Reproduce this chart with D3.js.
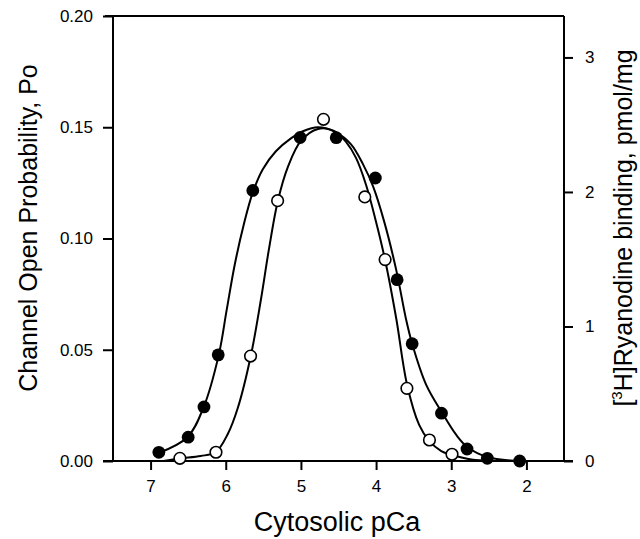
<!DOCTYPE html>
<html><head><meta charset="utf-8">
<script src="https://cdn.jsdelivr.net/npm/d3@7"></script>
<style>body{margin:0;background:#fff}svg{display:block}text{font-family:"Liberation Sans",Arial,Helvetica,sans-serif;fill:#000}</style>
</head><body><svg id="c" width="640" height="539"></svg>
<script>
// Channel open probability (filled circles, left axis)
const poPCa   = [6.89, 6.50, 6.29, 6.10, 5.64, 5.01, 4.53, 4.01, 3.72, 3.52, 3.13, 2.79, 2.52, 2.09];
const poValue = [0.0039, 0.0107, 0.0243, 0.0477, 0.1216, 0.1454, 0.1453, 0.1272, 0.0815, 0.0527, 0.0215, 0.0054, 0.0012, 0.0];
// [3H]ryanodine binding (open circles, right axis)
const bindPCa   = [6.61, 6.13, 5.67, 5.31, 4.70, 4.15, 3.88, 3.59, 3.29, 2.99];
const bindValue = [0.02, 0.065, 0.78, 1.935, 2.54, 1.963, 1.497, 0.54, 0.156, 0.05];
// fitted curves
const poFitPCa = [6.893, 6.507, 6.293, 6.093, 5.987, 5.88, 5.76, 5.64, 5.507, 5.333, 5.133, 4.973, 4.773, 4.533, 4.333, 4.173, 4.04, 3.893, 3.733, 3.60, 3.52, 3.333, 3.12, 2.933, 2.787, 2.52, 2.093];
const poFitVal = [0.0036, 0.0108, 0.0243, 0.0477, 0.0680, 0.0883, 0.1063, 0.1207, 0.1311, 0.1392, 0.1450, 0.1482, 0.1500, 0.1477, 0.1423, 0.1333, 0.1234, 0.1077, 0.086, 0.0635, 0.0527, 0.0342, 0.0216, 0.0117, 0.0063, 0.0018, 0.0];
const bindFitPCa = [6.827, 6.613, 6.333, 6.133, 5.973, 5.84, 5.667, 5.533, 5.427, 5.307, 5.173, 5.0, 4.773, 4.56, 4.40, 4.267, 4.133, 4.0, 3.88, 3.733, 3.587, 3.427, 3.293, 3.133, 2.987, 2.733, 2.467];
const bindFitVal = [0.0, 0.019, 0.037, 0.067, 0.201, 0.394, 0.781, 1.197, 1.569, 1.933, 2.186, 2.379, 2.468, 2.454, 2.372, 2.253, 2.052, 1.777, 1.494, 1.063, 0.565, 0.268, 0.149, 0.074, 0.045, 0.011, 0.0];
// ticks
const xTicks = [7, 6, 5, 4, 3, 2];
const yLeftTicks = [0.00, 0.05, 0.10, 0.15, 0.20];
const yRightTicks = [0, 1, 2, 3];
const xTitle = "Cytosolic pCa";
const yLeftTitle = "Channel Open Probability, Po";

const svg = d3.select("#c");
const L = 113, R = 564, T = 16, B = 461;
const x = d3.scaleLinear().domain([7.5, 1.5]).range([L, R]);
const yL = d3.scaleLinear().domain([0, 0.2]).range([B, T]);
const yR = d3.scaleLinear().domain([0, 3.308]).range([B, T]);

const sw = 2;
const FF = '"Liberation Sans",Arial,sans-serif';
const gL = svg.append("g").attr("transform", `translate(${L},0)`)
  .call(d3.axisLeft(yL).tickValues(yLeftTicks).tickFormat(d3.format(".2f")).tickSize(10).tickPadding(10));
const gR = svg.append("g").attr("transform", `translate(${R},0)`)
  .call(d3.axisRight(yR).tickValues(yRightTicks).tickFormat(d3.format("d")).tickSize(9).tickPadding(12));
const gB = svg.append("g").attr("transform", `translate(0,${B})`)
  .call(d3.axisBottom(x).tickValues(xTicks).tickFormat(d3.format("d")).tickSize(9).tickPadding(10));
[gL, gR, gB].forEach(g => {
  g.select(".domain").remove();
  g.selectAll(".tick line").attr("stroke", "#000").attr("stroke-width", sw);
  g.selectAll(".tick text").attr("font-size", 17).attr("font-family", FF);
});
const frame = svg.append("g").attr("stroke", "#000").attr("stroke-width", sw).attr("fill", "none");
frame.append("line").attr("x1", L).attr("x2", L).attr("y1", T).attr("y2", B);
frame.append("line").attr("x1", R).attr("x2", R).attr("y1", T).attr("y2", B);
frame.append("line").attr("x1", L - 8).attr("x2", R).attr("y1", T).attr("y2", T);
frame.append("line").attr("x1", L - 10).attr("x2", R + 9).attr("y1", B).attr("y2", B);

const lineL = d3.line().x(d => x(d[0])).y(d => yL(d[1])).curve(d3.curveCatmullRom.alpha(0.5));
const lineR = d3.line().x(d => x(d[0])).y(d => yR(d[1])).curve(d3.curveCatmullRom.alpha(0.5));
svg.append("path").datum(d3.zip(poFitPCa, poFitVal)).attr("d", lineL)
  .attr("fill", "none").attr("stroke", "#000").attr("stroke-width", 2);
svg.append("path").datum(d3.zip(bindFitPCa, bindFitVal)).attr("d", lineR)
  .attr("fill", "none").attr("stroke", "#000").attr("stroke-width", 2);

svg.append("g").selectAll("circle").data(d3.zip(bindPCa, bindValue)).join("circle")
  .attr("cx", d => x(d[0])).attr("cy", d => yR(d[1])).attr("r", 5.8)
  .attr("fill", "#fff").attr("stroke", "#000").attr("stroke-width", 1.6);
svg.append("g").selectAll("circle").data(d3.zip(poPCa, poValue)).join("circle")
  .attr("cx", d => x(d[0])).attr("cy", d => yL(d[1])).attr("r", 6.4)
  .attr("fill", "#000");

svg.append("text").attr("x", 337).attr("y", 531).attr("text-anchor", "middle")
  .attr("font-size", 27).text(xTitle);
svg.append("text").attr("transform", `translate(37,228) rotate(-90)`)
  .attr("text-anchor", "middle").attr("font-size", 25).text(yLeftTitle);
const rt = svg.append("text").attr("transform", `translate(632,228) rotate(-90)`)
  .attr("text-anchor", "middle").attr("font-size", 25);
rt.append("tspan").text("[");
rt.append("tspan").attr("font-size", 15).attr("dy", -10).text("3");
rt.append("tspan").attr("dy", 10).text("H]Ryanodine binding, pmol/mg");
</script></body></html>
